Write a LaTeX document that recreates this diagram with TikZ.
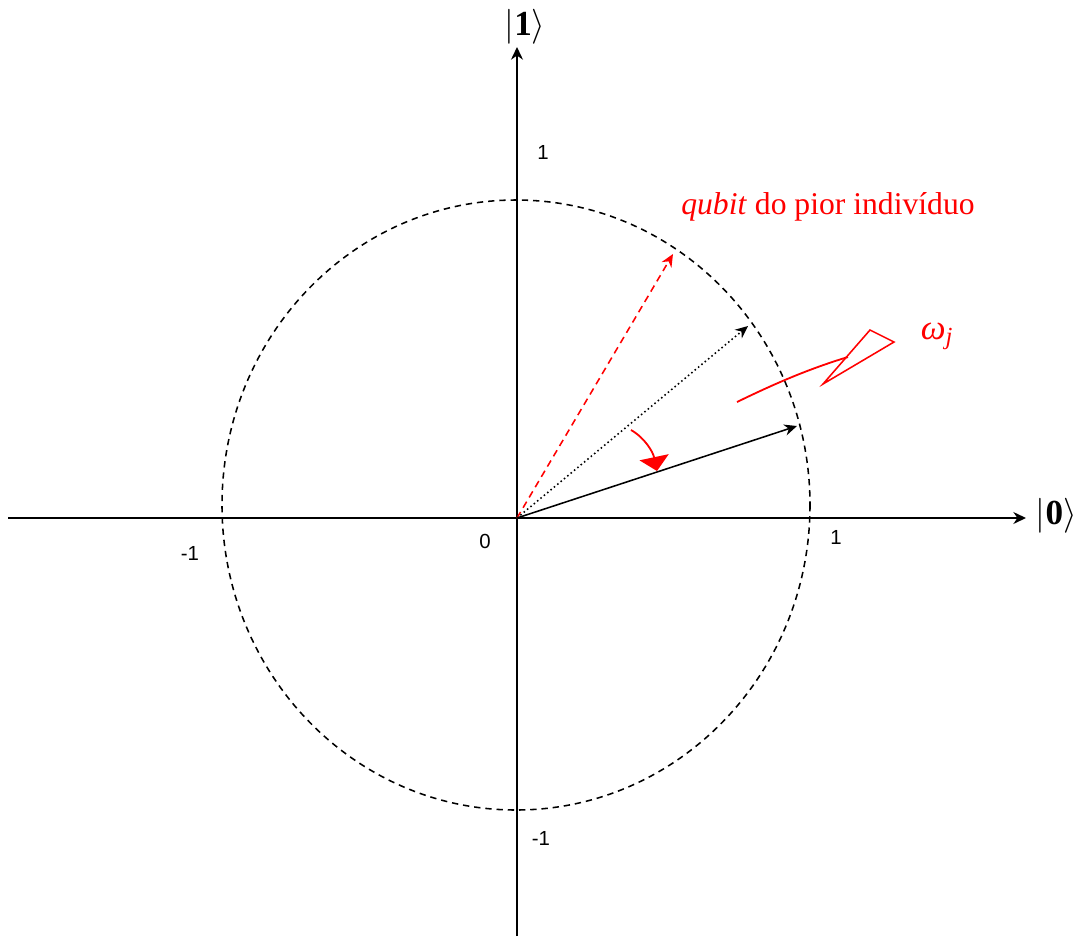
\documentclass[tikz,border=0pt]{standalone}
\usepackage{fontspec}
\setmainfont{Liberation Serif}
\setsansfont{Liberation Sans}
\usetikzlibrary{arrows.meta}
\tikzset{
  every picture/.style={x=0.025cm, y=-0.025cm},
  axis/.style={-{Stealth[length=9pt, width=8.5pt]}, line width=1.3pt},
  vec/.style={-{Stealth[length=9pt, width=8pt]}, line width=1.1pt},
  unitcircle/.style={line width=1.1pt, dash pattern=on 4.5pt off 3.5pt},
  tick/.style={font=\sffamily\fontsize{14.5}{17}\selectfont},
  ket/.style={font=\fontsize{25}{28}\selectfont},
  rlabel/.style={text=red, font=\fontsize{22.5}{26}\selectfont},
}

\begin{document}
\begin{tikzpicture}
  \useasboundingbox (0,0) rectangle (1080,936);
  \coordinate (O) at (517,518);
  \coordinate (xstart) at (8,518);
  \coordinate (ystart) at (517,936);
  \coordinate (xend) at (1026,518);
  \coordinate (yend) at (517,47);
  \node[ket, anchor=west] (ket0) at (1031,516) {$|\mathbf{0}\rangle$};
  \node[ket] (ket1) at (525,27) {$|\mathbf{1}\rangle$};
  \draw[axis] (xstart) -- (xend);
  \draw[axis] (ystart) -- (yend);
  \draw[unitcircle] (516,505) ellipse [x radius=294, y radius=305];
  \node[tick] (t1y) at (543,152) {1};
  \node[tick] (t1x) at (836,537) {1};
  \node[tick] (tm1x) at (190,553) {-1};
  \node[tick] (tm1y) at (541,838) {-1};
  \node[tick] (t0) at (485,541) {0};
  \coordinate (worst) at (673,254);
  \coordinate (prev) at (748,326);
  \coordinate (new) at (797,426);
  \draw[vec, red, dash pattern=on 5pt off 3.5pt] (O) -- (worst);
  \draw[vec, dotted] (O) -- (prev);
  \draw[vec] (O) -- (new);
  \coordinate (rotA) at (631,430);
  \coordinate (rotB) at (657,471);
  \draw[red, line width=1.3pt, -{Triangle[length=10pt, width=21pt]}]
    (rotA) .. controls (645,438) and (653,452) .. (rotB);
  \coordinate (wA) at (737,402);
  \coordinate (wB) at (848,357);
  \draw[red, line width=1.3pt] (wA) .. controls (770,386) and (805,370) .. (wB);
  \draw[red, line width=1.1pt] (870,330) -- (894,342) -- (823,384) -- cycle;
  \node[rlabel, font=\fontsize{25}{28}\selectfont] (omega) at (937,336) {\textit{ω\textsubscript{j}}};
  \node[rlabel] (worstlbl) at (828,207) {\textit{qubit} do pior indivíduo};
\end{tikzpicture}
\end{document}
